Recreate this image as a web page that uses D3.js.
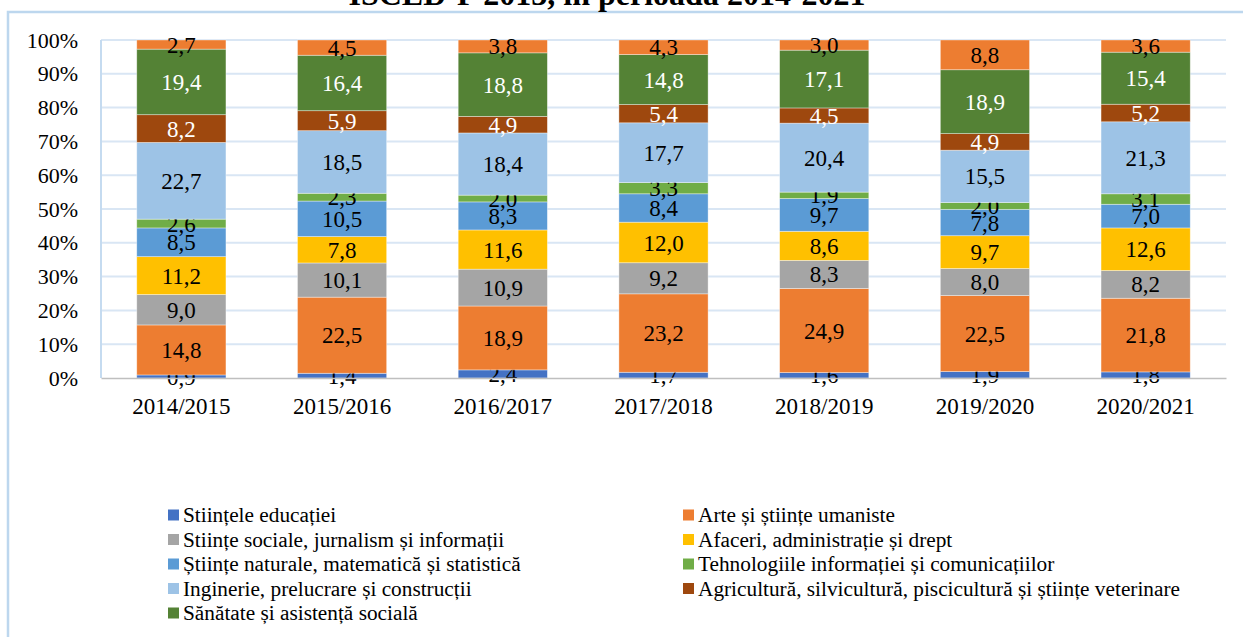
<!DOCTYPE html>
<html lang="ro">

<head>
    <meta charset="UTF-8">
    <script src="https://cdnjs.cloudflare.com/ajax/libs/d3/7.8.5/d3.min.js"></script>
    <title>Studenti pe domenii ISCED-F 2013</title>
    <style>
        body { margin: 0; background: #fff; }
    </style>
</head>

<body>
    <div id="content"></div>
</body>
<script>
    const years = ['2014/2015', '2015/2016', '2016/2017', '2017/2018', '2018/2019', '2019/2020', '2020/2021']
    const seriesNames = [
        'Stiințele educației',
        'Arte și științe umaniste',
        'Stiințe sociale, jurnalism și informații',
        'Afaceri, administrație și drept',
        'Științe naturale, matematică și statistică',
        'Tehnologiile informației și comunicațiilor',
        'Inginerie, prelucrare și construcții',
        'Agricultură, silvicultură, piscicultură și științe veterinare',
        'Sănătate și asistență socială',
        'Alte domenii'
    ]
    const educatie = [0.9, 1.4, 2.4, 1.7, 1.6, 1.9, 1.8]
    const arte = [14.8, 22.5, 18.9, 23.2, 24.9, 22.5, 21.8]
    const sociale = [9.0, 10.1, 10.9, 9.2, 8.3, 8.0, 8.2]
    const afaceri = [11.2, 7.8, 11.6, 12.0, 8.6, 9.7, 12.6]
    const naturale = [8.5, 10.5, 8.3, 8.4, 9.7, 7.8, 7.0]
    const tic = [2.6, 2.3, 2.0, 3.3, 1.9, 2.0, 3.1]
    const inginerie = [22.7, 18.5, 18.4, 17.7, 20.4, 15.5, 21.3]
    const agricultura = [8.2, 5.9, 4.9, 5.4, 4.5, 4.9, 5.2]
    const sanatate = [19.4, 16.4, 18.8, 14.8, 17.1, 18.9, 15.4]
    const alte = [2.7, 4.5, 3.8, 4.3, 3.0, 8.8, 3.6]
    const yTicks = [0, 10, 20, 30, 40, 50, 60, 70, 80, 90, 100]

    const values = [educatie, arte, sociale, afaceri, naturale, tic, inginerie, agricultura, sanatate, alte]
    const colors = ['#4472c4', '#ed7d31', '#a5a5a5', '#ffc000', '#5b9bd5', '#70ad47', '#9dc3e6', '#9e480e', '#548235', '#ed7d31']
    const labelColors = ['#000', '#000', '#000', '#000', '#000', '#000', '#000', '#fff', '#fff', '#000']
    const legendCount = 9
    const font = "'Liberation Serif', 'Times New Roman', 'DejaVu Serif', serif"

    // rows for d3.stack, normalised to 100% like the original
    const table = years.map((y, i) => {
        const row = { year: y }
        const total = d3.sum(values, s => s[i])
        values.forEach((s, k) => { row[k] = s[i] / total * 100; row['v' + k] = s[i] })
        return row
    })
    const stacked = d3.stack().keys(d3.range(values.length))(table)

    const width = 1243
    const height = 637
    const plotLeft = 101
    const plotRight = 1226
    const plotTop = 40
    const plotBottom = 378

    const xScale = d3.scaleBand().domain(years).range([plotLeft, plotRight]).paddingInner(0.445).paddingOuter(0.2225)
    const yScale = d3.scaleLinear().domain([0, 100]).range([plotBottom, plotTop])

    const svg = d3.select('#content')
        .append('svg')
        .attr('width', width)
        .attr('height', height)
        .attr('font-family', font)

    //-Frame
    svg.append('rect')
        .attr('x', 8)
        .attr('y', 12)
        .attr('width', width + 20)
        .attr('height', height + 20)
        .style('fill', 'none')
        .style('stroke', '#bdd7ee')
        .style('stroke-width', 2.5)
    //-Title (cut at the top edge)
    svg.append('text')
        .text('ISCED-F 2013, în perioada 2014-2021')
        .attr('x', 607)
        .attr('y', 5)
        .attr('text-anchor', 'middle')
        .style('font-family', font)
        .style('font-weight', 'bold')
        .style('font-size', '32px')

    //-Grid
    svg.append('g')
        .selectAll('line')
        .data(yTicks.slice(1))
        .join('line')
        .attr('x1', plotLeft)
        .attr('x2', plotRight)
        .attr('y1', d => yScale(d))
        .attr('y2', d => yScale(d))
        .style('stroke', '#d9e6f4')
        .style('stroke-width', 2)
    svg.append('line')
        .attr('x1', plotLeft)
        .attr('x2', plotLeft)
        .attr('y1', plotTop)
        .attr('y2', plotBottom)
        .style('stroke', '#c5dbf0')
        .style('stroke-width', 2)

    //-Bars
    const groups = svg.append('g')
        .selectAll('g')
        .data(stacked)
        .join('g')
        .style('fill', d => colors[d.key])
    groups.selectAll('rect')
        .data(d => d)
        .join('rect')
        .attr('x', d => xScale(d.data.year))
        .attr('width', xScale.bandwidth())
        .attr('y', d => yScale(d[1]))
        .attr('height', d => yScale(d[0]) - yScale(d[1]))
        .style('stroke', 'rgba(255,255,255,0.5)')
        .style('stroke-width', 0.75)

    //-Axis
    const xAxis = d3.axisBottom(xScale).tickSize(0).tickPadding(20)
    const gx = svg.append('g')
        .attr('transform', `translate(0,${plotBottom})`)
        .call(xAxis)
    gx.select('.domain').style('stroke', '#bfbfbf').style('stroke-width', 1.5)
    gx.selectAll('text').style('font-family', font).style('font-size', '23px').style('fill', '#000')

    const yAxis = d3.axisLeft(yScale).tickValues(yTicks).tickSize(0).tickPadding(23).tickFormat(d => d + '%')
    const gy = svg.append('g')
        .attr('transform', `translate(${plotLeft},0)`)
        .call(yAxis)
    gy.select('.domain').remove()
    gy.selectAll('text').style('font-family', font).style('font-size', '22px').style('fill', '#000')

    //-Labels
    groups.selectAll('text')
        .data(d => d.map(p => Object.assign({ key: d.key }, p)))
        .join('text')
        .text(d => d3.format('.1f')(d.data['v' + d.key]).replace('.', ','))
        .attr('x', d => xScale(d.data.year) + xScale.bandwidth() / 2)
        .attr('y', d => yScale((d[0] + d[1]) / 2))
        .attr('dy', '0.35em')
        .attr('text-anchor', 'middle')
        .style('font-family', font)
        .style('font-size', '23px')
        .style('fill', d => labelColors[d.key])

    //-Legend
    const legend = svg.append('g')
        .selectAll('g')
        .data(seriesNames.slice(0, legendCount))
        .join('g')
        .attr('transform', (d, i) => `translate(${i % 2 ? 683 : 168},${515 + Math.floor(i / 2) * 24.5})`)
    legend.append('rect')
        .attr('x', 0)
        .attr('y', -5.5)
        .attr('width', 11)
        .attr('height', 11)
        .style('fill', (d, i) => colors[i])
    legend.append('text')
        .text(d => d)
        .attr('x', 15)
        .attr('dy', '0.35em')
        .style('font-family', font)
        .style('font-size', '21.3px')
</script>

</html>
